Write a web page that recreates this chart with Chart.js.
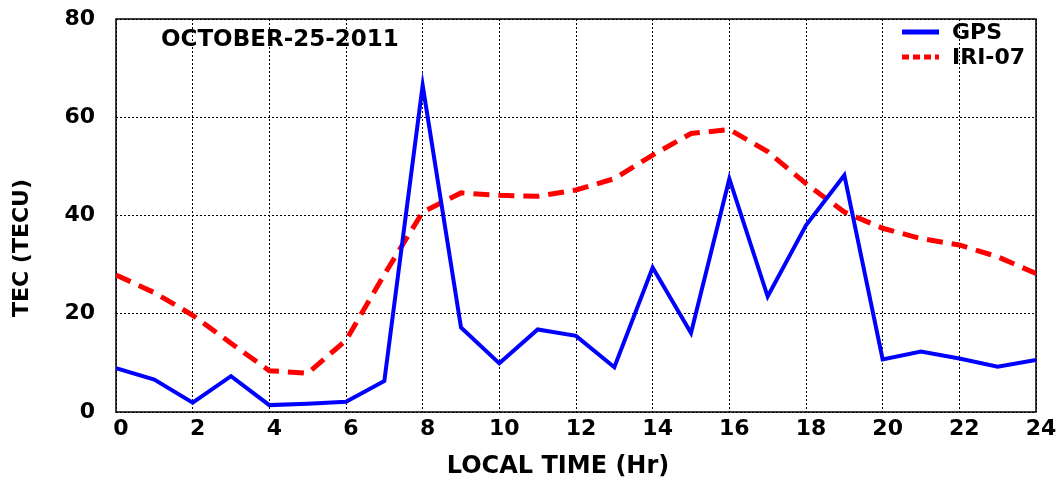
<!DOCTYPE html>
<html>
<head>
<meta charset="utf-8">
<script src="https://cdn.jsdelivr.net/npm/chart.js@4/dist/chart.umd.min.js"></script>
<style>
  html, body { margin: 0; padding: 0; background: #fff; }
  #wrap { width: 1061px; height: 479px; }
</style>
</head>
<body>
<div id="wrap"><canvas id="tecChart" width="1061" height="479"></canvas></div>
<script>
// local time in hours
const hours = [0, 1, 2, 3, 4, 5, 6, 7, 8, 9, 10, 11, 12, 13, 14, 15, 16, 17, 18, 19, 20, 21, 22, 23, 24];

// TEC (TECU)
const gpsTec = [8.9, 6.6, 1.9, 7.3, 1.4, 1.7, 2.1, 6.3, 66.5, 17.2, 9.9, 16.8, 15.5, 9.1, 29.4, 16.1, 47.5, 23.5, 38.0, 48.2, 10.7, 12.3, 10.9, 9.2, 10.6];
const iriTec = [27.9, 24.3, 19.7, 14.0, 8.4, 7.9, 14.6, 28.0, 40.7, 44.6, 44.1, 43.9, 45.2, 47.5, 52.3, 56.7, 57.5, 53.0, 46.5, 40.7, 37.4, 35.3, 34.0, 31.6, 28.2];

const dateLabel = 'OCTOBER-25-2011';
const xTitle = 'LOCAL TIME (Hr)';
const yTitle = 'TEC (TECU)';
const fontFamily = '"DejaVu Sans", Verdana, sans-serif';

const toPoints = (vals) => hours.map((h, i) => ({ x: h, y: vals[i] }));

// date text, legend and axis titles drawn by hand
const insideText = {
  id: 'insideText',
  afterDraw(chart) {
    const { ctx, chartArea } = chart;
    ctx.save();
    ctx.fillStyle = '#000';
    ctx.font = 'bold 23px ' + fontFamily;
    ctx.textBaseline = 'middle';
    ctx.textAlign = 'left';
    ctx.fillText(dateLabel, chartArea.left + 45, chartArea.top + 21);

    ctx.font = 'bold 24px ' + fontFamily;
    ctx.textAlign = 'center';
    ctx.fillText(xTitle, chartArea.left + 442, chartArea.bottom + 55);

    ctx.save();
    ctx.font = 'bold 22px ' + fontFamily;
    ctx.translate(22, chartArea.top + 229);
    ctx.rotate(-Math.PI / 2);
    ctx.fillText(yTitle, 0, 0);
    ctx.restore();
    ctx.textAlign = 'left';

    const x0 = chartArea.right - 134;
    const rows = [
      { ds: chart.data.datasets[0], y: chartArea.top + 13, dash: [] },
      { ds: chart.data.datasets[1], y: chartArea.top + 38, dash: [7, 4] }
    ];
    ctx.font = 'bold 22px ' + fontFamily;
    rows.forEach(r => {
      ctx.beginPath();
      ctx.strokeStyle = r.ds.borderColor;
      ctx.lineWidth = 5;
      ctx.setLineDash(r.dash);
      ctx.moveTo(x0, r.y);
      ctx.lineTo(x0 + 37, r.y);
      ctx.stroke();
      ctx.setLineDash([]);
      ctx.fillStyle = '#000';
      ctx.fillText(r.ds.label, x0 + 50, r.y + 1);
    });
    ctx.restore();
  }
};

// solid box round the plot (grid lines themselves are dotted)
const frame = {
  id: 'frame',
  beforeDatasetsDraw(chart) {
    const { ctx, chartArea } = chart;
    ctx.save();
    ctx.strokeStyle = '#000';
    ctx.lineWidth = 1.5;
    ctx.strokeRect(chartArea.left, chartArea.top, chartArea.right - chartArea.left, chartArea.bottom - chartArea.top);
    ctx.restore();
  }
};

new Chart(document.getElementById('tecChart'), {
  type: 'line',
  data: {
    datasets: [
      {
        label: 'GPS',
        data: toPoints(gpsTec),
        borderColor: '#0000ff',
        borderWidth: 4,
        pointRadius: 0,
        tension: 0
      },
      {
        label: 'IRI-07',
        data: toPoints(iriTec),
        borderColor: '#ff0000',
        borderWidth: 5,
        borderDash: [16, 9],
        pointRadius: 0,
        tension: 0
      }
    ]
  },
  options: {
    responsive: false,
    animation: false,
    layout: { padding: { top: 19, right: 25, left: 0, bottom: 0 } },
    plugins: {
      legend: { display: false },
      tooltip: { enabled: false }
    },
    scales: {
      x: {
        type: 'linear',
        min: 0,
        max: 24,
        afterFit(scale) {
          scale.height = 67;
          scale.paddingLeft = 0;
          scale.paddingRight = 0;
        },
        ticks: {
          stepSize: 2,
          color: '#000',
          padding: 4,
          labelOffset: 5,
          font: { family: fontFamily, size: 22, weight: 'bold' }
        },
        grid: {
          color: '#000',
          lineWidth: 1,
          drawTicks: false
        },
        border: { display: false, dash: [2, 2] }
      },
      y: {
        min: 0,
        max: 80,
        afterFit(scale) {
          scale.width = 116;
          scale.paddingTop = 0;
          scale.paddingBottom = 0;
        },
        ticks: {
          stepSize: 20,
          color: '#000',
          padding: 21,
          font: { family: fontFamily, size: 22, weight: 'bold' }
        },
        grid: {
          color: '#000',
          lineWidth: 1,
          drawTicks: false
        },
        border: { display: false, dash: [2, 2] }
      }
    }
  },
  plugins: [frame, insideText]
});
</script>
</body>
</html>
